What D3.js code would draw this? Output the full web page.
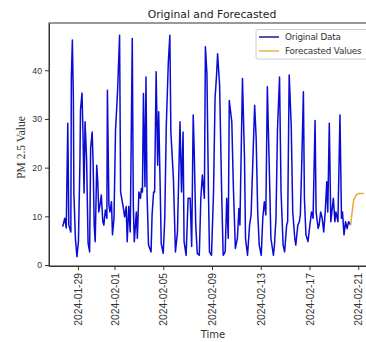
<!DOCTYPE html>
<html>
<head>
<meta charset="utf-8">
<script src="https://cdn.jsdelivr.net/npm/d3@7"></script>
<style>
  html, body { margin: 0; padding: 0; background: #fff; overflow: hidden; }
  svg { display: block; font-family: "DejaVu Sans", sans-serif; }
  .axis path, .axis line { stroke: #333; }
  .axis text { fill: #333; font-size: 8.7px; }
  .axis.x text { font-size: 10.3px; }
</style>
</head>
<body>
<svg id="chart" width="366" height="342"></svg>
<script>
// PM 2.5 readings
const obsTime = [
  "2024-01-27 18", "2024-01-27 22", "2024-01-28 01", "2024-01-28 04", "2024-01-28 06", "2024-01-28 10",
  "2024-01-28 11", "2024-01-28 13", "2024-01-28 15", "2024-01-28 16", "2024-01-28 19", "2024-01-28 22",
  "2024-01-29 01", "2024-01-29 04", "2024-01-29 05", "2024-01-29 08", "2024-01-29 10", "2024-01-29 12",
  "2024-01-29 14", "2024-01-29 17", "2024-01-29 20", "2024-01-29 23", "2024-01-30 01", "2024-01-30 04",
  "2024-01-30 06", "2024-01-30 08", "2024-01-30 10", "2024-01-30 13", "2024-01-30 15", "2024-01-30 17",
  "2024-01-30 20", "2024-01-30 22", "2024-01-31 01", "2024-01-31 03", "2024-01-31 06", "2024-01-31 09",
  "2024-01-31 10", "2024-01-31 13", "2024-01-31 15", "2024-01-31 18", "2024-01-31 20", "2024-01-31 23",
  "2024-02-01 02", "2024-02-01 06", "2024-02-01 10", "2024-02-01 12", "2024-02-01 17", "2024-02-01 20",
  "2024-02-01 23", "2024-02-02 01", "2024-02-02 04", "2024-02-02 07", "2024-02-02 11", "2024-02-02 13",
  "2024-02-02 15", "2024-02-02 19", "2024-02-02 21", "2024-02-03 00", "2024-02-03 03", "2024-02-03 05",
  "2024-02-03 07", "2024-02-03 09", "2024-02-03 12", "2024-02-03 14", "2024-02-03 16", "2024-02-03 19",
  "2024-02-04 00", "2024-02-04 02", "2024-02-04 05", "2024-02-04 07", "2024-02-04 10", "2024-02-04 13",
  "2024-02-04 15", "2024-02-04 18", "2024-02-04 20", "2024-02-05 00", "2024-02-05 03", "2024-02-05 06",
  "2024-02-05 10", "2024-02-05 13", "2024-02-05 15", "2024-02-05 20", "2024-02-06 00", "2024-02-06 04",
  "2024-02-06 07", "2024-02-06 09", "2024-02-06 12", "2024-02-06 15", "2024-02-06 17", "2024-02-06 21",
  "2024-02-07 01", "2024-02-07 05", "2024-02-07 08", "2024-02-07 11", "2024-02-07 13", "2024-02-07 16",
  "2024-02-07 19", "2024-02-07 23", "2024-02-08 02", "2024-02-08 05", "2024-02-08 09", "2024-02-08 11",
  "2024-02-08 14", "2024-02-08 17", "2024-02-08 19", "2024-02-08 23", "2024-02-09 03", "2024-02-09 06",
  "2024-02-09 09", "2024-02-09 11", "2024-02-09 15", "2024-02-09 19", "2024-02-09 22", "2024-02-10 02",
  "2024-02-10 05", "2024-02-10 08", "2024-02-10 10", "2024-02-10 15", "2024-02-10 18", "2024-02-10 22",
  "2024-02-11 02", "2024-02-11 05", "2024-02-11 07", "2024-02-11 12", "2024-02-11 16", "2024-02-11 18",
  "2024-02-11 22", "2024-02-12 02", "2024-02-12 05", "2024-02-12 12", "2024-02-12 15", "2024-02-12 18",
  "2024-02-12 21", "2024-02-13 01", "2024-02-13 04", "2024-02-13 07", "2024-02-13 10", "2024-02-13 13",
  "2024-02-13 17", "2024-02-13 20", "2024-02-14 01", "2024-02-14 03", "2024-02-14 06", "2024-02-14 09",
  "2024-02-14 13", "2024-02-14 16", "2024-02-14 20", "2024-02-14 23", "2024-02-15 03", "2024-02-15 05",
  "2024-02-15 08", "2024-02-15 12", "2024-02-15 15", "2024-02-15 19", "2024-02-15 21", "2024-02-16 01",
  "2024-02-16 04", "2024-02-16 06", "2024-02-16 09", "2024-02-16 12", "2024-02-16 14", "2024-02-16 17",
  "2024-02-16 21", "2024-02-17 00", "2024-02-17 04", "2024-02-17 07", "2024-02-17 11", "2024-02-17 13",
  "2024-02-17 17", "2024-02-17 19", "2024-02-17 22", "2024-02-18 01", "2024-02-18 04", "2024-02-18 07",
  "2024-02-18 10", "2024-02-18 12", "2024-02-18 15", "2024-02-18 18", "2024-02-18 20", "2024-02-18 23",
  "2024-02-19 02", "2024-02-19 04", "2024-02-19 08", "2024-02-19 12", "2024-02-19 15", "2024-02-19 17",
  "2024-02-19 20", "2024-02-19 23", "2024-02-20 02", "2024-02-20 05", "2024-02-20 09"
];
const obsValue = [
  7.9, 9.6, 7.6, 29.1, 8.2, 6.8,
  38.4, 46.2, 34.3, 14.8, 5.5, 1.7,
  4.8, 21.9, 31.8, 35.3, 26.7, 14.8,
  29.4, 21.9, 4.5, 2.7, 24, 27.3,
  20.5, 8.2, 4.8, 20.5, 17.1, 10.9,
  12.7, 14.4, 8.9, 8.2, 11.3, 9.6,
  35.9, 12.3, 10.9, 13, 6.2, 9.6,
  27.7, 35.6, 47.2, 15, 12, 9.9,
  12, 4.8, 12, 6.8, 46.5, 12.3,
  4.8, 10.9, 5.5, 15, 13.7, 15.7,
  15, 35.2, 16.1, 38.6, 15, 4.1,
  2.7, 10.3, 15, 15, 39.7, 20.5,
  31.5, 15.7, 4.4, 2.4, 9.6, 28.7,
  41.7, 47.2, 27.3, 17.8, 2.7, 6.8,
  20.5, 29.4, 15, 27.3, 4.8, 2,
  13.7, 13.7, 3.8, 30.8, 23.2, 8.2,
  2.4, 2, 13.7, 18.5, 13.7, 44.8,
  39.3, 15, 2.7, 2, 15, 34.2,
  39, 43.4, 36.9, 15, 2, 2.7,
  13.7, 5.5, 33.8, 29.4, 16.4, 3.4,
  5.5, 11.6, 8.2, 38.3, 21.9, 5.5,
  2, 8.2, 10.3, 32.8, 26, 10.9,
  4.1, 2, 9.6, 13, 10.3, 36.6,
  19.1, 5.5, 2, 4.1, 9.6, 28,
  38.6, 15, 4.1, 2.7, 8.2, 8.9,
  39, 28.7, 10.9, 5.5, 4.1, 8.2,
  8.9, 10.3, 21.9, 35.6, 13.7, 6.2,
  4.8, 7.5, 10.9, 9.6, 29.7, 10.9,
  7.5, 8.2, 10.9, 9.6, 6.8, 10.9,
  17.1, 10.9, 29.1, 8.9, 10.9, 13.7,
  8.9, 10.9, 8.9, 30.8, 9.6, 10.9,
  6.2, 8.9, 7.5, 8.9, 8.2
];

// forecast continues from the last reading
const fcTime = ["2024-02-20 09", "2024-02-20 12", "2024-02-20 15", "2024-02-20 20", "2024-02-21 01", "2024-02-21 11"];
const fcValue = [8.2, 10.9, 13.3, 14.4, 14.7, 14.7];

const xTicks = ["2024-01-29 00", "2024-02-01 00", "2024-02-05 00", "2024-02-09 00", "2024-02-13 00", "2024-02-17 00", "2024-02-21 00"];
const yTicks = [0, 10, 20, 30, 40];
const xRange = ["2024-01-26 15", "2024-02-22 09"];
const yRange = [-0.2, 49.7];

const parse = d3.timeParse("%Y-%m-%d %H");
const fmt = d3.timeFormat("%Y-%m-%d");

const svg = d3.select("#chart");
const margin = { top: 23, left: 49 };
const width = 326, height = 243; // right spine falls just outside the crop

const x = d3.scaleTime().domain(xRange.map(parse)).range([0, width]);
const y = d3.scaleLinear().domain(yRange).range([height, 0]);

const g = svg.append("g").attr("transform", `translate(${margin.left},${margin.top})`);

// lines
const line = d3.line().x(d => x(d[0])).y(d => y(d[1]));

g.append("path")
  .datum(obsTime.map((t, i) => [parse(t), obsValue[i]]))
  .attr("fill", "none")
  .attr("stroke", "#0b0bd6")
  .attr("stroke-width", 1.5)
  .attr("stroke-linejoin", "round")
  .attr("d", line);

g.append("path")
  .datum(fcTime.map((t, i) => [parse(t), fcValue[i]]))
  .attr("fill", "none")
  .attr("stroke", "#e8a93a")
  .attr("stroke-width", 1.5)
  .attr("d", line);

// axes
g.append("g")
  .attr("class", "axis x")
  .attr("transform", `translate(0,${height})`)
  .call(d3.axisBottom(x).tickValues(xTicks.map(parse)).tickFormat(fmt).tickSize(4).tickSizeOuter(0))
  .selectAll("text")
  .attr("transform", "rotate(-90)")
  .attr("x", -7)
  .attr("y", 0)
  .attr("dy", "0.35em")
  .style("text-anchor", "end");

g.append("g")
  .attr("class", "axis")
  .call(d3.axisLeft(y).tickValues(yTicks).tickSize(4).tickSizeOuter(0).tickPadding(3));

// frame
g.append("rect")
  .attr("width", width).attr("height", height)
  .attr("fill", "none").attr("stroke", "#333");

// labels
svg.append("text")
  .attr("x", margin.left + width / 2).attr("y", 18)
  .attr("text-anchor", "middle")
  .style("font-size", "10.8px").style("fill", "#222")
  .text("Original and Forecasted");

svg.append("text")
  .attr("transform", `translate(25,${margin.top + height / 2 + 3}) rotate(-90)`)
  .attr("text-anchor", "middle")
  .style("font-family", "'Liberation Serif', serif")
  .style("font-size", "11.5px").style("fill", "#333")
  .text("PM 2.5 Value");

svg.append("text")
  .attr("x", 213).attr("y", 338)
  .attr("text-anchor", "middle")
  .style("font-size", "10px").style("fill", "#333")
  .text("Time");

// legend (box runs past the right edge, as in the source image)
const legend = svg.append("g").attr("transform", "translate(256,29.5)");
legend.append("rect")
  .attr("width", 130).attr("height", 29.5).attr("rx", 2)
  .attr("fill", "#fff").attr("stroke", "#ccc");
const items = [["Original Data", "#1a1a8c"], ["Forecasted Values", "#e8b44a"]];
items.forEach(([label, color], i) => {
  const row = legend.append("g").attr("transform", `translate(0,${7.5 + i * 14})`);
  row.append("line").attr("x1", 3).attr("x2", 23).attr("stroke", color).attr("stroke-width", 1.5);
  row.append("text").attr("x", 29).attr("dy", "0.35em")
    .style("font-size", "8.8px").style("letter-spacing", "-0.2px")
    .style("fill", "#333").text(label);
});
</script>
</body>
</html>
